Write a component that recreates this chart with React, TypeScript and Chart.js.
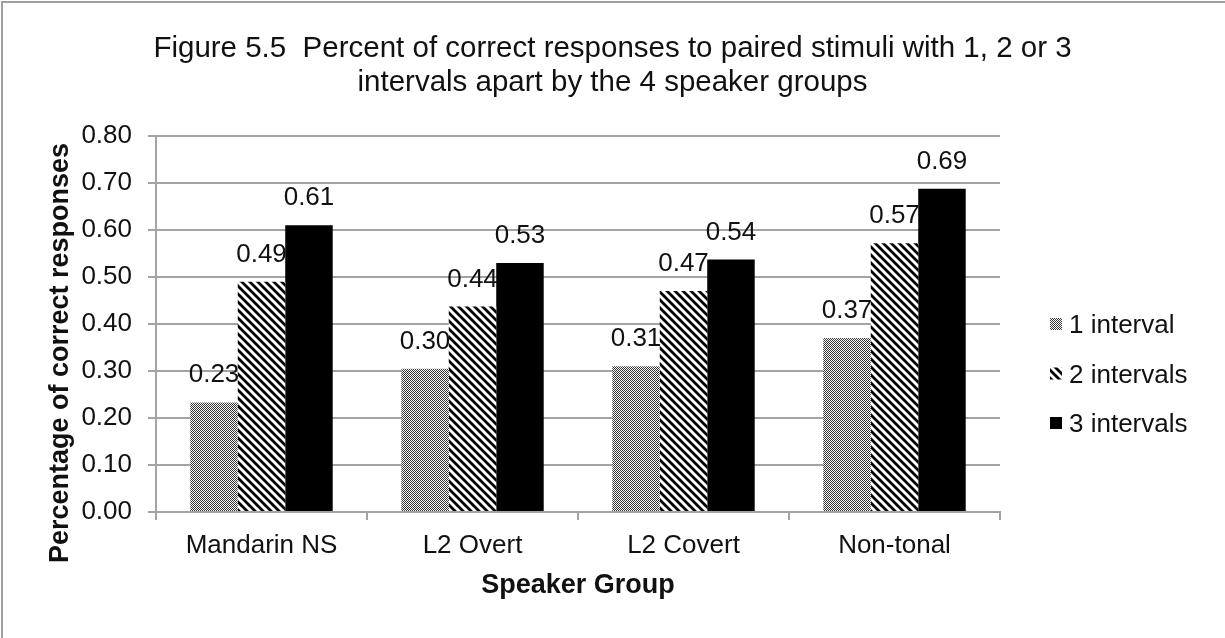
import React, { useEffect, useRef } from 'react';
import { Chart, registerables } from 'chart.js';

Chart.register(...registerables);

const categories = ['Mandarin NS', 'L2 Overt', 'L2 Covert', 'Non-tonal'];
const seriesNames = ['1 interval', '2 intervals', '3 intervals'];
const oneInterval = [0.233, 0.305, 0.31, 0.37];
const twoIntervals = [0.49, 0.437, 0.47, 0.572];
const threeIntervals = [0.61, 0.53, 0.537, 0.688];
const yMin = 0;
const yMax = 0.8;
const yStep = 0.1;
const titleLines = [
  'Figure 5.5  Percent of correct responses to paired stimuli with 1, 2 or 3',
  'intervals apart by the 4 speaker groups',
];
const xTitle = 'Speaker Group';
const yTitle = 'Percentage of correct responses';

const FONT = '"Liberation Sans", Arial, Helvetica, sans-serif';
const GRID = '#a3a3a3';
const TEXT = '#111111';

function checkerPattern(ctx: CanvasRenderingContext2D) {
  const c = document.createElement('canvas');
  c.width = 2;
  c.height = 2;
  const g = c.getContext('2d')!;
  g.fillStyle = '#ffffff';
  g.fillRect(0, 0, 2, 2);
  g.fillStyle = '#333333';
  g.fillRect(0, 0, 1, 1);
  g.fillRect(1, 1, 1, 1);
  return ctx.createPattern(c, 'repeat')!;
}

function stripePattern(ctx: CanvasRenderingContext2D) {
  const s = 8;
  const c = document.createElement('canvas');
  c.width = s;
  c.height = s;
  const g = c.getContext('2d')!;
  g.fillStyle = '#ffffff';
  g.fillRect(0, 0, s, s);
  g.strokeStyle = '#000000';
  g.lineWidth = 2.8;
  g.beginPath();
  for (const c0 of [-s, 0, s]) {
    g.moveTo(-1, c0 - 1);
    g.lineTo(s + 1, s + c0 + 1);
  }
  g.stroke();
  return ctx.createPattern(c, 'repeat')!;
}

const decorPlugin = {
  id: 'decor',
  beforeDraw(chart: any) {
    const { ctx, width, height } = chart;
    ctx.save();
    ctx.fillStyle = '#ffffff';
    ctx.fillRect(0, 0, width, height);
    ctx.fillStyle = '#a0a0a0';
    ctx.fillRect(1, 1, 2, height);
    ctx.fillRect(1, 1, width, 2);
    ctx.restore();
  },
  afterDatasetsDraw(chart: any) {
    const { ctx } = chart;
    ctx.save();
    ctx.font = `26px ${FONT}`;
    ctx.fillStyle = TEXT;
    ctx.textAlign = 'center';
    ctx.textBaseline = 'alphabetic';
    chart.data.datasets.forEach((ds: any, i: number) => {
      const meta = chart.getDatasetMeta(i);
      meta.data.forEach((el: any, j: number) => {
        ctx.fillText(Number(ds.data[j]).toFixed(2), el.x, el.y - 20);
      });
    });
    ctx.restore();
  },
  afterDraw(chart: any) {
    const { ctx, width } = chart;
    ctx.save();
    // Title
    ctx.font = `29.5px ${FONT}`;
    ctx.fillStyle = TEXT;
    ctx.textAlign = 'center';
    ctx.textBaseline = 'alphabetic';
    ctx.fillText(titleLines[0], width / 2, 57);
    ctx.fillText(titleLines[1], width / 2, 91);
    // Y title
    ctx.save();
    ctx.translate(61, 353);
    ctx.rotate(-Math.PI / 2);
    ctx.font = `bold 27px ${FONT}`;
    ctx.textBaseline = 'middle';
    ctx.textAlign = 'center';
    ctx.fillText(yTitle, 0, 0);
    ctx.restore();
    // Legend
    const rows = [324, 373.5, 423];
    ctx.font = `26px ${FONT}`;
    ctx.textAlign = 'left';
    ctx.textBaseline = 'alphabetic';
    chart.data.datasets.forEach((ds: any, i: number) => {
      const cy = rows[i];
      ctx.fillStyle = ds.backgroundColor;
      ctx.fillRect(1050, cy - 6, 12, 12);
      ctx.fillStyle = TEXT;
      ctx.fillText(ds.label, 1069, cy + 9);
    });
    ctx.restore();
  },
};

export default function App() {
  const ref = useRef<HTMLCanvasElement>(null);
  useEffect(() => {
    document.body.style.margin = '0';
    const canvas = ref.current!;
    const ctx = canvas.getContext('2d')!;
    const fills = [checkerPattern(ctx), stripePattern(ctx), '#000000'];
    const seriesData = [oneInterval, twoIntervals, threeIntervals];
    const chart = new Chart(canvas, {
      type: 'bar',
      data: {
        labels: categories,
        datasets: seriesNames.map((name, i) => ({
          label: name,
          data: seriesData[i],
          backgroundColor: fills[i] as any,
          borderWidth: 0,
          categoryPercentage: 0.675,
          barPercentage: 1,
        })),
      },
      options: {
        responsive: false,
        animation: false,
        devicePixelRatio: 1,
        layout: { padding: { top: 136, right: 225, left: 0, bottom: 0 } },
        plugins: {
          legend: { display: false },
          title: { display: false },
          tooltip: { enabled: false },
        },
        scales: {
          x: {
            grid: {
              display: true,
              drawOnChartArea: false,
              drawTicks: true,
              tickLength: 8,
              color: GRID,
              lineWidth: 2,
              offset: true,
            },
            border: { display: true, color: GRID, width: 2 },
            ticks: {
              font: { family: FONT, size: 26 },
              color: TEXT,
              padding: 10,
              maxRotation: 0,
            },
            title: {
              display: true,
              text: xTitle,
              font: { family: FONT, size: 27, weight: 'bold' },
              color: TEXT,
              padding: { top: 0, bottom: 36 },
            },
            afterFit(scale: any) {
              scale.height = 126;
            },
          },
          y: {
            min: yMin,
            max: yMax,
            grid: {
              color: GRID,
              lineWidth: 2,
              tickLength: 8,
              drawTicks: true,
            },
            border: { display: true, color: GRID, width: 2 },
            ticks: {
              stepSize: yStep,
              font: { family: FONT, size: 26 },
              color: TEXT,
              padding: 16,
              callback: (v: any) => Number(v).toFixed(2),
            },
            afterFit(scale: any) {
              scale.width = 156;
            },
          },
        },
      },
      plugins: [decorPlugin],
    });
    return () => chart.destroy();
  }, []);
  return <canvas ref={ref} width={1225} height={638} style={{ display: 'block' }} />;
}
